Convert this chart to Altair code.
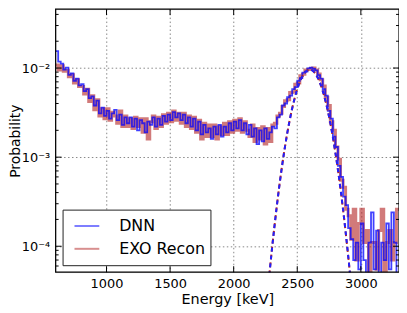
import altair as alt
import pandas as pd

# ---------------- data (values in units of 1e-4) ----------------
bin_start = 600
bin_width = 20

dnn = [
    155, 118, 112, 96, 101, 84, 87, 72, 76, 64,        # 600-780
    66, 55, 58, 46, 48, 38, 43, 31, 36, 29,            # 800-980
    33, 27, 31, 34, 26, 30, 23, 28, 24, 28,            # 1000-1180
    22, 27, 20, 26, 24, 19, 25, 23, 28, 22,            # 1200-1380
    27, 23, 29, 25, 30, 26, 32, 28, 31, 26,            # 1400-1580
    30, 24, 28, 22, 27, 20, 25, 18, 23, 19,            # 1600-1780
    21, 16, 22, 18, 23, 17, 22, 19, 24, 20,            # 1800-1980
    25, 21, 26, 20, 24, 18, 23, 17, 21, 14,            # 2000-2180
    20, 15, 21, 16, 19, 22, 21, 28, 30, 38,            # 2200-2380
    40, 47, 49, 58, 61, 72, 77, 89, 91, 99,            # 2400-2580
    101, 98, 94, 83, 76, 58, 49, 33, 27, 17,           # 2600-2780
    13, 8, 6, 3.6, 2.9, 1.6, 1.2, 0.7, 1.1, 0.55,      # 2800-2980
    1.8, 0.7, 0, 1.1, 2.4, 0.55, 1.5, 0, 1.1, 0.7,     # 3000-3180
    1.8, 0.55, 2.4, 1.1, 0,                            # 3200-3280
]

exo = [
    108, 95, 106, 92, 94, 80, 84, 68, 74, 62,          # 600-780
    62, 51, 58, 42, 49, 34, 44, 29, 35, 27,            # 800-980
    35, 26, 32, 29, 24, 33, 22, 29, 22, 27,            # 1000-1180
    21, 28, 22, 27, 19, 27, 16, 25, 29, 21,            # 1200-1380
    28, 22, 30, 24, 31, 25, 33, 26, 31, 24,            # 1400-1580
    31, 22, 29, 21, 28, 19, 26, 16, 24, 17,            # 1600-1780
    23, 17, 23, 16, 22, 18, 24, 18, 25, 19,            # 1800-1980
    26, 20, 27, 19, 25, 20, 17, 23, 15, 21,            # 2000-2180
    16, 22, 14, 21, 15, 23, 24, 29, 31, 37,            # 2200-2380
    43, 44, 53, 54, 66, 68, 82, 85, 95, 96,            # 2400-2580
    99, 100, 95, 86, 74, 63, 47, 38, 25, 20,           # 2600-2780
    13, 9.5, 5.5, 4.6, 2.6, 2.2, 1.2, 2.6, 0.7, 1.8,   # 2800-2980
    2.6, 1.1, 1.5, 0, 1.1, 1.1, 0.55, 1.5, 2.6, 0,     # 3000-3180
    1.1, 1.5, 0.7, 1.1, 2.6,                           # 3200-3280
]

fit_energy = [2280, 2300, 2320, 2360, 2400, 2440, 2480, 2520, 2560, 2600,
              2640, 2680, 2720, 2760, 2800, 2840, 2880, 2900, 2920]
fit_value = [0.47, 0.90, 1.64, 4.87, 12.2, 25.8, 46.1, 69.7, 89.0, 96.0,
             87.5, 67.4, 43.9, 24.1, 11.2, 4.4, 1.46, 0.79, 0.41]

x_major = [1000, 1500, 2000, 2500, 3000]
y_major = [1e-4, 1e-3, 1e-2]
y_minor = [6e-5, 7e-5, 8e-5, 9e-5,
           2e-4, 3e-4, 4e-4, 5e-4, 6e-4, 7e-4, 8e-4, 9e-4,
           2e-3, 3e-3, 4e-3, 5e-3, 6e-3, 7e-3, 8e-3, 9e-3,
           2e-2, 3e-2, 4e-2]

# ---------------- build tables ----------------
def hist_df(vals, name):
    edges = [bin_start + bin_width * i for i in range(len(vals))]
    v = [x * 1e-4 if x > 0 else 1e-7 for x in vals]
    edges = edges + [edges[-1] + bin_width]
    v = v + [v[-1]]
    return pd.DataFrame({"energy": edges, "value": v, "series": name})

df_dnn = hist_df(dnn, "DNN")
df_exo = hist_df(exo, "EXO Recon")
df_fit = pd.DataFrame({"energy": fit_energy, "value": [v * 1e-4 for v in fit_value]})

W, H = 346, 265
FONT = "DejaVu Sans"

xscale = alt.Scale(domain=[600, 3300], nice=False, zero=False)
yscale = alt.Scale(type="log", domain=[5.12e-5, 0.0458], nice=False)

xaxis = alt.Axis(values=x_major, title="Energy [keV]", grid=True, ticks=False,
                 domain=False, labelPadding=5, labelFontSize=13, titleFontSize=14.5,
                 titleFontWeight="normal", titlePadding=3, labelFont=FONT, titleFont=FONT,
                 labelColor="black", titleColor="black", format="d",
                 gridDash=[1.5, 2.5], gridColor="#888", gridWidth=1)
yaxis = alt.Axis(values=y_major, title="Probability", grid=True, ticks=False,
                 domain=False, labelPadding=6, labelFontSize=13, titleFontSize=14,
                 titleFontWeight="normal", labelFont=FONT, titleFont=FONT,
                 titleX=-40, titleY=H / 2, titleBaseline="middle", titleAngle=270,
                 labelColor="black", titleColor="black",
                 labelExpr="datum.value < 0.0005 ? '10⁻⁴' : (datum.value < 0.005 ? '10⁻³' : '10⁻²')",
                 gridDash=[1.5, 2.5], gridColor="#888", gridWidth=1)

xenc = alt.X("energy:Q", scale=xscale, axis=xaxis)
yenc = alt.Y("value:Q", scale=yscale, axis=yaxis)
color_scale = alt.Scale(domain=["DNN", "EXO Recon"], range=["#0000ff", "#b22222"])

legend = alt.Legend(title=None, orient="none", legendX=7, legendY=202,
                    symbolType="stroke", symbolSize=625, symbolStrokeWidth=2,
                    symbolOpacity=0.5, symbolOffset=6, clipHeight=23,
                    labelFontSize=16, labelFont=FONT, labelColor="black",
                    labelOffset=19, rowPadding=0, padding=5,
                    strokeColor="#222", fillColor="white", cornerRadius=0)

red = alt.Chart(df_exo).mark_line(interpolate="step-after", clip=True, strokeWidth=3,
                                   opacity=0.6).encode(
    x=xenc, y=yenc, color=alt.Color("series:N", scale=color_scale, legend=legend))
blue = alt.Chart(df_dnn).mark_line(interpolate="step-after", clip=True, strokeWidth=1.8,
                                    opacity=0.75).encode(
    x=xenc, y=yenc, color=alt.Color("series:N", scale=color_scale, legend=legend))

fit_red = alt.Chart(df_fit).mark_line(interpolate="monotone", clip=True, strokeWidth=2,
                                       color="#b22222", strokeDash=[5, 3]).encode(x=xenc, y=yenc)
fit_blue = alt.Chart(df_fit).mark_line(interpolate="monotone", clip=True, strokeWidth=2,
                                        color="#2020ff", strokeDash=[4, 4]).encode(x=xenc, y=yenc)

ymaj_df = pd.DataFrame({"value": y_major})
ymin_df = pd.DataFrame({"value": y_minor})
xmaj_df = pd.DataFrame({"energy": x_major})

tick_style = dict(color="black", strokeWidth=1)
ticks = [
    alt.Chart(ymaj_df).mark_rule(**tick_style).encode(y=yenc, x=alt.value(0), x2=alt.value(6)),
    alt.Chart(ymaj_df).mark_rule(**tick_style).encode(y=yenc, x=alt.value(W - 6), x2=alt.value(W)),
    alt.Chart(ymin_df).mark_rule(**tick_style).encode(y=yenc, x=alt.value(0), x2=alt.value(3)),
    alt.Chart(ymin_df).mark_rule(**tick_style).encode(y=yenc, x=alt.value(W - 3), x2=alt.value(W)),
    alt.Chart(xmaj_df).mark_rule(**tick_style).encode(x=xenc, y=alt.value(H), y2=alt.value(H - 6)),
    alt.Chart(xmaj_df).mark_rule(**tick_style).encode(x=xenc, y=alt.value(0), y2=alt.value(6)),
]

frame = alt.Chart(pd.DataFrame({"k": [0]})).mark_rect(
    fill=None, stroke="black", strokeWidth=1.2).encode(
    x=alt.value(0), x2=alt.value(W), y=alt.value(0), y2=alt.value(H))

chart = alt.layer(red, blue, fit_red, fit_blue, *ticks, frame).properties(
    width=W, height=H, autosize="none",
    padding={"left": 48, "top": 0, "right": 0, "bottom": 40},
).configure_view(stroke=None).configure(background="white")

chart.save("out.html", embed_options={"renderer": "svg", "actions": False})
